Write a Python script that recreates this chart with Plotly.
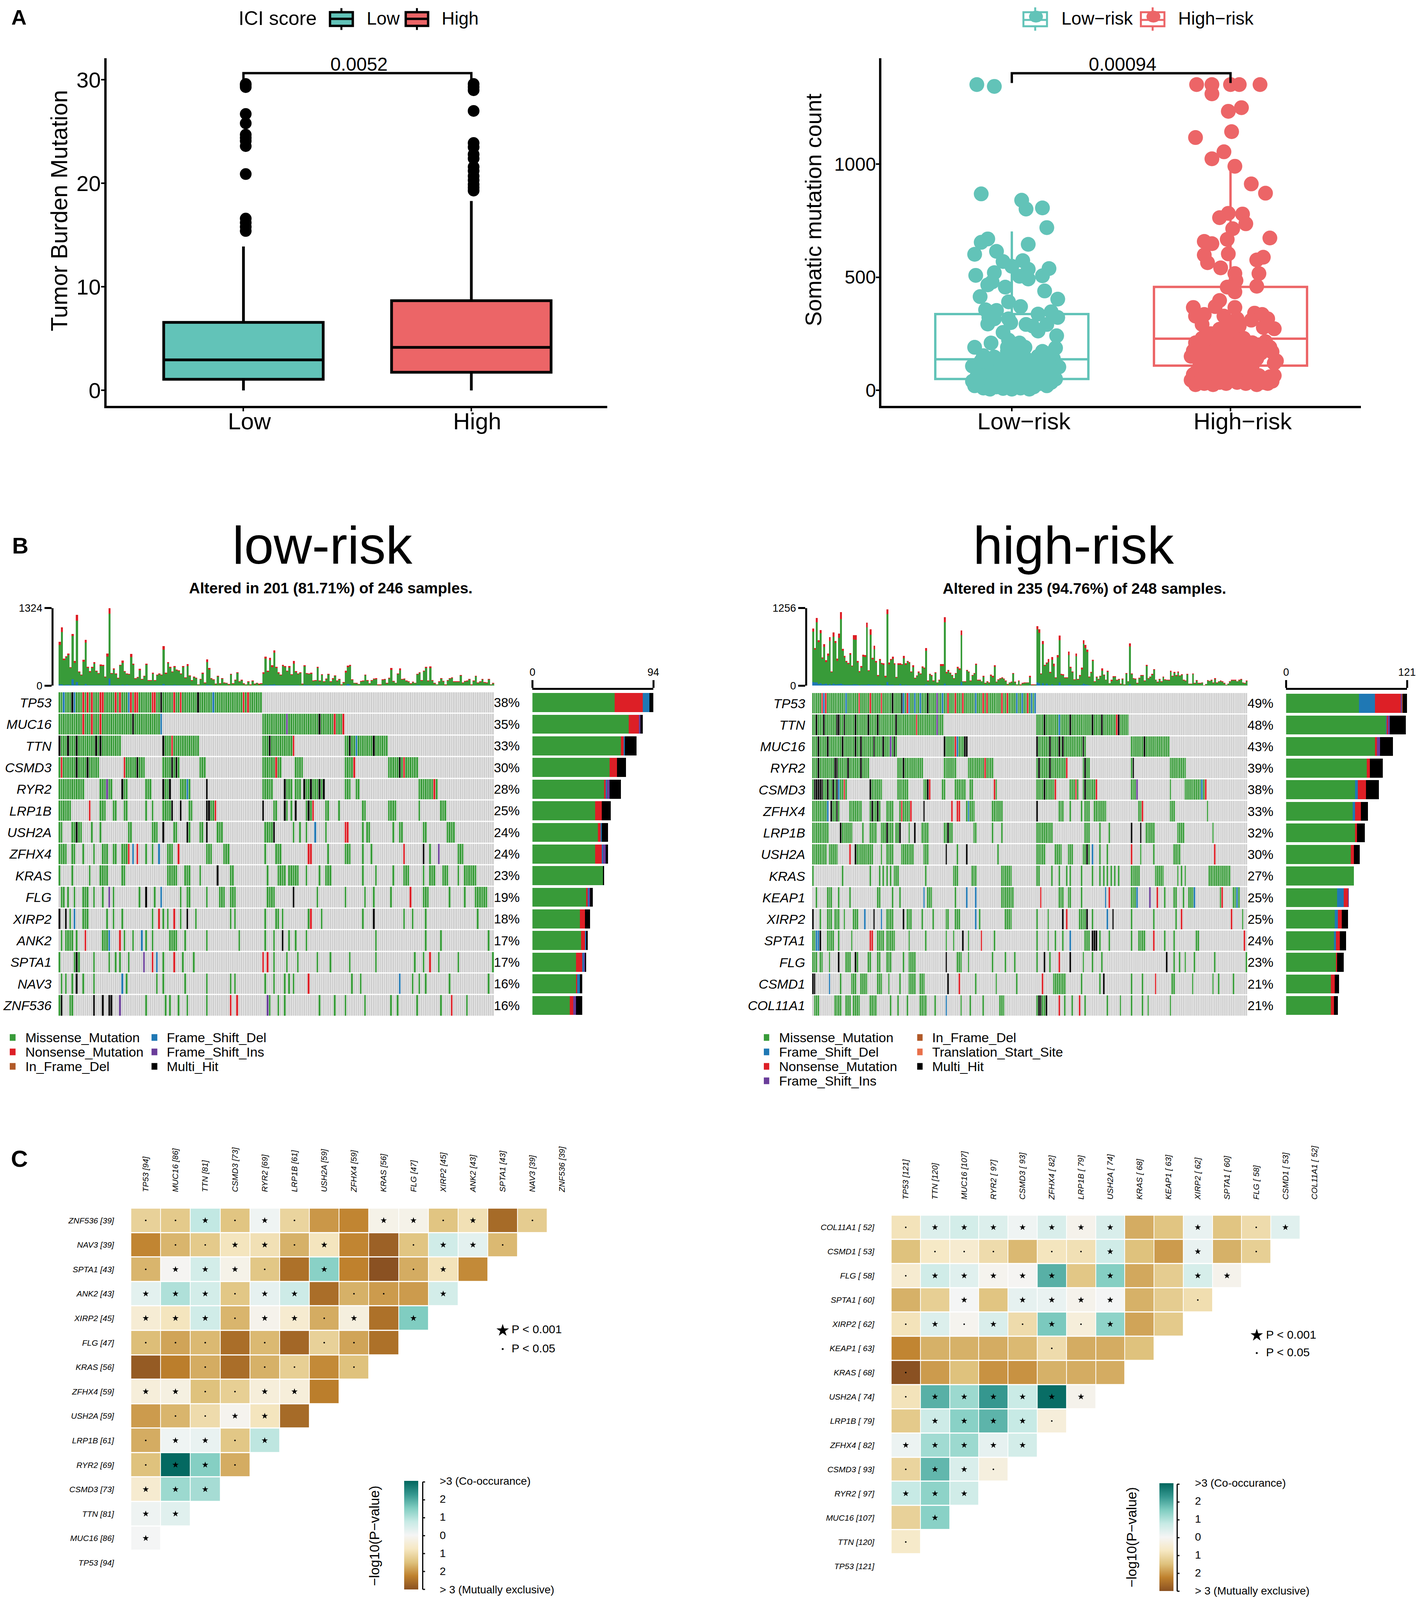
import plotly.graph_objects as go

# page keeps the browser's default 8px body margin, and only about 4100px of the window's height is visible
PAGE_MARGIN = 8
VIEW_H = 4100
Y_SCALE = VIEW_H / 4292
FIG_W = 3644 - 2 * PAGE_MARGIN
FIG_H = VIEW_H - 2 * PAGE_MARGIN
FONT = "Liberation Sans"

TEAL = "#62C3B8"
SALMON = "#EC6567"
GREEN = "#389B39"
RED = "#DD1F26"
BLUE = "#1F78B4"
PURPLE = "#6A3D9A"
BROWN = "#B15928"
ORANGE = "#E9704A"
BLACK = "#000000"
GREY = "#CFCFCF"

# panel A, left
TMB_GROUPS = ["Low", "High"]
TMB_Q1 = [1.07, 1.75]
TMB_MEDIAN = [2.95, 4.16]
TMB_Q3 = [6.57, 8.67]
TMB_LOWER = [0, 0]
TMB_UPPER = [13.9, 18.3]
TMB_LOW_OUTLIERS = [29.6, 29.5, 29.3, 26.7, 25.8, 24.7, 24.4, 24.1, 23.6, 20.9, 16.6, 16.2, 15.8, 15.4]
TMB_HIGH_OUTLIERS = [29.6, 29.3, 29.0, 27.0, 23.9, 23.5, 22.8, 22.4, 21.6, 21.2, 20.7, 20.3, 19.9, 19.6, 19.3]
TMB_BRACKET = [29.65, 30.65, 30.65, 29.65]

# panel A, right
RISK_GROUPS = ["Low\u2212risk", "High\u2212risk"]
RISK_Q1 = [50, 109]
RISK_MEDIAN = [137, 228]
RISK_Q3 = [337, 457]
RISK_LOWER = [5, 21]
RISK_UPPER = [702, 974]
RISK_BRACKET = [1358, 1401, 1401, 1358]
RISK_LOW_X = [-.16, -.08, -.14, .045, .065, .14, .16, .075, -.11, -.14, -.17, -.07, -.04, .05, 0, .17, .075, -.08, -.165, .14,
              .075, .035, -.09, -.11, -.03, .15, -.145, .21, -.015, .04, -.12, -.07, .12, .18, .21, -.105, -.08, -.015, -.005, -.11,
              .065, .16, .095, .12, -.04, .205, -.095, -.015, .035, -.17, .2, -.02, .035, .14, -.13, -.08, .065, .135, .19, -.18,
              .215, 0, .075, -.18, -.17, -.16, -.15, -.14, -.13, -.12, -.11, -.1, -.1, -.09, -.08, -.07, -.06, -.05, -.05, -.04,
              -.03, -.02, -.01, 0, 0, .01, .02, .03, .04, .04, .05, .06, .07, .08, .08, .09, .1, .11, .12, .13,
              .14, .15, .16, .17, .18, .19, .2, -.1, -.06, -.03, .02, .05, .09, .12, .16, .18, -.14, -.02, .06]
RISK_LOW_Y = [1351, 1343, 868, 840, 801, 806, 719, 645, 669, 654, 601, 614, 569, 573, 548, 538, 535, 520, 508, 506,
              492, 504, 479, 466, 456, 439, 414, 403, 391, 370, 356, 353, 337, 347, 322, 322, 316, 316, 299, 293,
              291, 291, 284, 262, 256, 241, 209, 222, 209, 190, 187, 172, 174, 172, 153, 147, 140, 134, 140, 107,
              103, 122, 109, 40, 20, 60, 85, 35, 10, 50, 75, 25, 5, 90, 45, 15, 65, 100, 30, 8,
              55, 80, 20, 45, 5, 95, 60, 25, 10, 75, 40, 100, 55, 5, 30, 85, 15, 50, 70, 30,
              95, 45, 20, 65, 35, 85, 50, 120, 135, 115, 150, 130, 115, 150, 120, 165, 130, 190, 190]
RISK_HIGH_X = [-.155, -.085, 0, .04, .135, -.085, .05, -.01, .005, -.16, -.03, -.085, .02, .095, .16, -.01, -.05, .055, .07, .01,
               .18, -.015, -.12, -.085, -.01, -.12, .15, .12, -.105, -.045, .13, .02, .025, .12, -.015, .02, -.05, -.17, -.07, .02,
               -.16, -.12, .11, .145, -.03, .17, .03, .095, -.13, .15, .2, -.02, .04, -.18, -.17, -.16, -.15, -.14, -.13, -.12,
               -.11, -.1, -.09, -.08, -.07, -.06, -.05, -.04, -.03, -.02, -.01, 0, .01, .02, .03, .04, .05, .06, .07, .08,
               .09, .1, .12, .13, .15, .17, .18, .19, .2, -.18, -.17, -.16, -.14, -.13, -.12, -.1, -.09, -.08, -.07, -.06,
               -.05, -.04, -.03, -.02, -.01, 0, .01, .02, .03, .04, .05, .06, .08, .09, .1, .11, .12, .14, .16, .18,
               .2, .19, .21]
RISK_HIGH_Y = [1351, 1351, 1351, 1351, 1351, 1310, 1249, 1233, 1143, 1117, 1054, 1023, 990, 912, 871, 782, 763, 779, 736, 714,
               673, 667, 658, 648, 603, 598, 588, 576, 564, 541, 516, 516, 485, 460, 456, 435, 397, 366, 370, 366,
               328, 335, 341, 335, 328, 316, 316, 310, 291, 278, 272, 278, 284, 45, 70, 25, 90, 120, 50, 30,
               80, 110, 45, 25, 70, 100, 35, 60, 90, 30, 75, 120, 50, 90, 35, 70, 110, 50, 30, 85,
               60, 110, 25, 65, 35, 30, 60, 40, 65, 150, 175, 210, 190, 230, 160, 200, 250, 170, 230, 140,
               270, 190, 150, 240, 175, 290, 210, 150, 260, 190, 140, 230, 175, 150, 210, 180, 140, 165, 215, 190,
               120, 170, 130]

# panel B, low-risk oncoplot: tokens are sample ranges, letter = mutation type, no letter = missense
LOW_GENES = ["TP53", "MUC16", "TTN", "CSMD3", "RYR2", "LRP1B", "USH2A", "ZFHX4", "KRAS", "FLG", "XIRP2", "ANK2", "SPTA1", "NAV3", "ZNF536"]
LOW_PCT = ["38%", "35%", "33%", "30%", "28%", "25%", "24%", "24%", "23%", "19%", "18%", "17%", "17%", "16%", "16%"]
LOW_TP53 = "0-93 F2 H6 F7 N11 N13 N15 N19 N20 N26 N28 F32 N33 N35 N36 N43 N44 H47 N53 N56 H64 F71 N85 N87"
LOW_MUC16 = "0-47 94-131 N11 N15 N19 H34 F47 I105 H120 N127 N131"
LOW_TTN = "0-28 48-64 94-108 132-151 H0 H4 H8 H17 H19 H48 N52 H97 N108 H134 F137 H145"
LOW_CSMD3 = "0-18 30-39 48-55 65-67 94-102 109-112 132-136 152-165 N1 H8 H13 N30 H36 H52 H54 N100 N136 H157 N159"
LOW_RYR2 = "0-11 19-24 29-31 40-42 48-51 56-60 94-98 104-107 109-111 113-122 132-134 137-138 166-174 I22 H29 H48 H51 F59 H68 H104 H113 H116 H120 H122 N173"
LOW_LRP1B = "0-5 N14 19-21 25-26 30-31 40 43 48-52 H52 H56 60-61 H68 H69 70-72 N72 H94 99-100 104-105 H104 107 H109 114-117 H115 N117 123-124 129 140-141 152-155 166 176-178"
LOW_USH2A = "0-1 6-10 H8 15 19 32-33 43-45 H48 53-54 59-60 H59 65-66 H68 73-75 95-99 H99 108 111 114 F118 123 N132-133 140 142-143 154 157-158 168-169 179-182"
LOW_ZFHX4 = "0-3 6-7 11 16 20-22 25-26 29-31 N32 F34 N36 40 43 F46 50-52 N55 68-70 76-78 95 100-102 N115-116 124 132-134 140 144 N159 H168 171 I175 184-186"
LOW_KRAS = "0 6 14 19-22 29-30 50-54 58-60 65 H73 79-80 96 101-104 106-110 114 120 123-125 140 146 154 159-161 168 171-173 177-179 184 187-192"
LOW_FLG = "1 2 4 7 11-13 16 20 I23 25 37 H40 44 F47 56 59-60 68 74-76 79-81 96-99 H108 119 132 141 145 153 N162 168-170 180 187 192-197"
LOW_XIRP2 = "H0 H3 5 F7 11-13 22 25 29 43 N46 48 50 N53 56 H59 63 79 81 95 100-101 103 N116 115 121 140 H145 159 163 169 193"
LOW_ANK2 = "1 3-6 8 N12 20-22 F23 N28 30 34 F38 40 43 51-54 58 68 83 95 99 H103 106 109 114 146 169 176 198"
LOW_SPTA1 = "0 7-9 H8 16 23 26 28 32 I39 N43 F45 48 N53 57 62 N94 N96 99 105 110 119 125 134 146 164 168 N171 175 184 200"
LOW_NAV3 = "1 3 6 H8 11 16 F29 31 45 48 58 68 79 81 95 99 104 106 108 N115 135 139 F157 163 166 169 180 198"
LOW_ZNF536 = "0 H1 5-6 H16 H20 H23 H24 I28 40 49 51 55 59 68 N79 N82 I96 97 101 104 120 127 132 141 153 156 165 176 N181 188"
LOW_ROWS = [LOW_TP53, LOW_MUC16, LOW_TTN, LOW_CSMD3, LOW_RYR2, LOW_LRP1B, LOW_USH2A, LOW_ZFHX4, LOW_KRAS, LOW_FLG, LOW_XIRP2, LOW_ANK2, LOW_SPTA1, LOW_NAV3, LOW_ZNF536]

LOW_TMB = [750, 998, 462, 504, 552, 315, 882, 420, 1208, 242, 189, 441, 783, 321, 246, 321, 399, 258, 216, 361,
           353, 158, 546, 1323, 216, 294, 210, 137, 357, 430, 248, 210, 200, 542, 374, 126, 147, 290, 116, 168,
           378, 90, 95, 220, 95, 189, 210, 189, 678, 220, 399, 325, 241, 336, 273, 262, 210, 336, 140, 367,
           178, 94, 158, 136, 21, 115, 220, 52, 451, 304, 126, 105, 38, 168, 36, 126, 52, 48, 27, 200,
           36, 100, 231, 69, 98, 38, 21, 73, 17, 84, 36, 48, 32, 36, 227, 494, 258, 477, 346, 603,
           321, 231, 189, 357, 336, 258, 336, 195, 420, 246, 210, 227, 36, 346, 216, 210, 220, 84, 94, 325,
           84, 195, 69, 120, 204, 69, 126, 178, 88, 115, 17, 59, 252, 342, 357, 111, 48, 42, 27, 80,
           84, 189, 90, 36, 90, 122, 126, 17, 17, 105, 115, 42, 136, 300, 80, 48, 210, 294, 115, 122,
           84, 73, 38, 63, 48, 200, 227, 94, 256, 325, 84, 330, 90, 42, 21, 73, 130, 80, 17, 90,
           126, 140, 73, 69, 73, 183, 52, 77, 84, 115, 17, 88, 168, 52, 73, 111, 56, 52, 111, 21, 42]
LOW_NONSENSE = [52, 84, 25, 20, 30, 15, 35, 30, 100, 15, 10, 35, 50, 20, 12, 20, 25, 15, 10, 25,
                20, 15, 52, 95, 10, 22, 15, 10, 15, 40, 15, 10, 10, 50, 22, 8, 12, 25, 8, 10,
                20, 8, 8, 20, 8, 15, 15, 15, 63, 20, 20, 22, 15, 20, 10, 12, 12, 20, 8, 30,
                10, 8, 10, 10, 4, 10, 15, 6, 50, 30, 10, 8, 15, 12, 6, 10, 5, 5, 8, 15,
                6, 8, 15, 6, 6, 8, 6, 6, 4, 6, 15, 6, 15, 8, 25, 30, 20, 42, 30, 42,
                20, 22, 15, 25, 20, 15, 25, 12, 42, 15, 15, 15, 10, 20, 15, 12, 15, 8, 8, 22,
                8, 15, 6, 10, 15, 6, 12, 15, 8, 10, 4, 6, 30, 25, 25, 10, 6, 6, 4, 8,
                8, 12, 6, 6, 6, 10, 12, 3, 3, 8, 10, 6, 15, 30, 6, 6, 15, 30, 10, 12,
                6, 6, 4, 6, 5, 15, 15, 6, 15, 25, 6, 25, 6, 5, 4, 6, 10, 6, 3, 6,
                10, 10, 6, 6, 6, 12, 5, 6, 6, 8, 3, 8, 15, 5, 6, 8, 5, 5, 8, 3, 6]
LOW_FRAMESHIFT = [20, 20, 8, 15, 15, 8, 110, 15, 60, 8, 8, 8, 30, 8, 8, 10, 8, 8, 10, 10,
                  8, 10, 10, 120, 8, 8, 10, 8, 8, 15, 8, 15, 8, 8, 8, 5, 5, 8, 5, 8,
                  8, 5, 5, 8, 5, 5, 5, 8, 30, 8, 10, 8, 8, 15, 8, 8, 5, 8, 5, 5,
                  5, 3, 3, 3, 3, 3, 5, 3, 15, 8, 5, 3, 3, 3, 3, 3, 3, 3, 3, 3,
                  3, 3, 3, 3, 3, 3, 3, 3, 3, 3, 3, 3, 3, 3, 8, 15, 8, 15, 15, 20,
                  8, 10, 5, 8, 5, 5, 5, 5, 5, 8, 5, 3, 3, 15, 8, 8, 5, 3, 5, 15,
                  5, 5, 5, 10, 8, 3, 5, 8, 3, 3, 3, 3, 5, 25, 15, 3, 3, 3, 3, 3,
                  3, 3, 3, 3, 3, 3, 3, 3, 3, 3, 3, 3, 3, 3, 3, 3, 3, 3, 3, 3,
                  3, 3, 3, 3, 3, 8, 5, 3, 3, 3, 3, 3, 3, 3, 3, 3, 3, 3, 3, 3,
                  3, 3, 3, 3, 3, 3, 3, 3, 3, 3, 3, 3, 3, 3, 3, 3, 3, 3, 3, 3, 3]

LOW_BAR_MISSENSE = [64, 75, 69, 60, 56, 49, 51, 49, 55, 42, 37, 38, 34, 34, 29]
LOW_BAR_NONSENSE = [22, 8, 2, 6, 1, 5, 2, 5, 0, 1, 4, 3, 5, 1, 3]
LOW_BAR_FRAMESHIFT_DEL = [5, 0, 1, 0, 1, 0, 1, 1, 0, 1, 0, 1, 1, 2, 0]
LOW_BAR_FRAMESHIFT_INS = [0, 1, 0, 0, 2, 0, 0, 2, 0, 1, 0, 0, 1, 0, 2]
LOW_BAR_MULTI = [3, 2, 9, 7, 9, 7, 5, 2, 1, 2, 4, 1, 1, 2, 5]

# panel B, high-risk oncoplot
HIGH_GENES = ["TP53", "TTN", "MUC16", "RYR2", "CSMD3", "ZFHX4", "LRP1B", "USH2A", "KRAS", "KEAP1", "XIRP2", "SPTA1", "FLG", "CSMD1", "COL11A1"]
HIGH_PCT = ["49%", "48%", "43%", "39%", "38%", "33%", "32%", "30%", "27%", "25%", "25%", "24%", "23%", "21%", "21%"]
HIGH_TP53 = "0-120 N5 F6 N7 F18 N25 N31 N37 H43 H48 F49 F52 N51 F55 F58 H62 I67 F70 N73 N77 N81 F88 N92 N94 N102 N105 F110 F113 N116 F118 F120"
HIGH_TTN = "0-70 121-170 H2 H6 H13 H14 H17 H23 H30 H35 H45 N56 I67 H125 F133 H139 H151 H156 N164 H165"
HIGH_MUC16 = "0-45 71-83 121-147 172-192 H3 H8 H16 H23 H26 H33 H38 I42 H44 H71 N77 F78 H82 H83 H121 H128 H133 H135 H146 H179"
HIGH_RYR2 = "0-30 46-59 71-77 84-97 121-137 146-149 172-173 193-201 H3 H12 H13 H19 H26 H49 N93 H122 H128 N137 H147 H173"
HIGH_CSMD3 = "0-18 H1 H2 H3 H4 H5 H8 H11 H13 F14 N17 31-37 H31 46-51 60-63 H62 N63 70-71 77-82 85-86 98-99 N98 121-131 H125 N131 139-143 N142 146-153 H147 N153 172-175 I175 193 201-212 F210 N212"
HIGH_ZFHX4 = "0-7 F8 10-14 H10 H13 20-26 31-36 H32 H35 40-43 47-52 N48 N53 H60 N75 N78 N79 83-87 F84 97-102 H121 133-135 139 145 147-149 152-158 176-178 N178 193-195 213"
HIGH_LRP1B = "0-8 H15 16-21 27 31-34 37-43 H40 45-47 H47 52 H55 59-62 71-75 H73 87-88 97 102 121-128 129 147-149 155 160 H172 H177 180-184 197-200 216"
HIGH_USH2A = "0-7 9-13 N20 24-32 H23 37 40-43 48-54 60-62 H72 78 H83 100 121-125 131-134 138-140 146-149 H148 F151 155 159 N172 177 184 195-198 N217"
HIGH_KRAS = "0 16 31 36 38 40 42 44-46 61 76-78 86-88 102-107 121-122 129 133 137 139 145 151 155 157 159 161 163 165 172-176 185-189 197 199 201 214-225"
HIGH_KEAP1 = "2 8-10 14 20 35-36 43 47 F60 62-64 77 F83 F88 102-108 N123 133-135 138-139 145 F158 N160 172-174 F175 I182 N186 190 195-196 200 203-205 F206 220 N221 227-230 F229"
HIGH_XIRP2 = "H0 4 8-10 12-14 17 22-24 F28 H33 F37 40-43 H49 51-53 59 65 72-73 77-79 F88 90 104-107 121 127 H135 N137 144-148 H148 151 F159 H162 172 184 196 N199 N226 232"
HIGH_SPTA1 = "0-1 F2-3 H4 8-11 14 21 N31-32 35-38 40-44 52 61 72 76 H81 84 N91 98 121 127 131 135 F139 147-149 H151-153 155 160 172 176-179 N184 190 195 207-208 N233"
HIGH_FLG = "0-2 4-5 9 H14 18-20 H23 24 30-31 35-36 40-42 49 52-55 H72 78-80 84 97 104 109 121 H125 128 N133 H139 146 151 156 H191 195 198 201 206 217 234"
HIGH_CSMD1 = "H0-1 F9 15 21-23 26-29 35-37 41 47 52-55 58-60 H73 N79 88 99 110 N124 130-136 145 155 H157 172 178 N185 194-195 205 216 219 227"
HIGH_COL11A1 = "1-3 12-15 18-20 22-25 31-34 42 46 51 58-61 66 F72 80 85 92 101-103 121-125 H122 H123 H126 N133 136 140 N144 147 159 166 172 178 181 193"
HIGH_ROWS = [HIGH_TP53, HIGH_TTN, HIGH_MUC16, HIGH_RYR2, HIGH_CSMD3, HIGH_ZFHX4, HIGH_LRP1B, HIGH_USH2A, HIGH_KRAS, HIGH_KEAP1, HIGH_XIRP2, HIGH_SPTA1, HIGH_FLG, HIGH_CSMD1, HIGH_COL11A1]

HIGH_TMB = [924, 610, 1096, 734, 904, 460, 676, 414, 520, 784, 230, 864, 724, 440, 846, 1190, 594, 486, 400, 370,
            530, 324, 820, 820, 400, 234, 320, 500, 496, 1020, 250, 916, 454, 646, 400, 170, 430, 370, 360, 160,
            1240, 374, 430, 470, 360, 140, 360, 360, 350, 480, 360, 400, 380, 230, 330, 130, 166, 230, 200, 310,
            290, 610, 80, 194, 170, 80, 216, 50, 96, 350, 350, 1110, 220, 254, 210, 170, 120, 206, 306, 280,
            896, 70, 66, 256, 230, 80, 174, 206, 354, 90, 94, 70, 160, 40, 66, 46, 176, 160, 330, 60,
            104, 124, 134, 110, 80, 26, 50, 60, 206, 60, 20, 80, 16, 40, 46, 50, 50, 160, 16, 16,
            18, 966, 916, 200, 724, 340, 374, 430, 220, 464, 354, 134, 496, 814, 190, 184, 134, 134, 554, 306,
            230, 100, 524, 110, 170, 290, 736, 660, 584, 146, 220, 420, 70, 150, 110, 160, 280, 180, 96, 240,
            36, 94, 154, 156, 90, 110, 30, 110, 20, 206, 70, 686, 200, 124, 110, 40, 124, 170, 170, 80,
            336, 120, 150, 190, 270, 96, 60, 106, 66, 150, 100, 96, 90, 240, 160, 220, 170, 230, 166, 186,
            90, 80, 190, 30, 30, 200, 40, 86, 40, 40, 50, 6, 26, 86, 76, 90, 46, 120, 46, 70,
            80, 66, 40, 10, 30, 70, 90, 90, 90, 70, 94, 110, 50, 40, 84]
HIGH_NONSENSE = [50, 25, 70, 30, 55, 20, 50, 30, 40, 60, 15, 70, 35, 40, 70, 110, 30, 30, 20, 20,
                 25, 15, 70, 76, 25, 15, 25, 30, 30, 76, 15, 88, 30, 55, 25, 12, 25, 20, 20, 25,
                 76, 30, 20, 40, 15, 8, 25, 20, 15, 35, 25, 15, 15, 12, 30, 15, 12, 20, 12, 20,
                 15, 45, 6, 15, 12, 6, 10, 4, 8, 35, 30, 84, 25, 20, 15, 10, 8, 15, 25, 25,
                 76, 5, 5, 15, 12, 6, 12, 15, 20, 6, 8, 5, 20, 4, 6, 4, 12, 25, 25, 5,
                 8, 15, 10, 6, 6, 6, 4, 4, 15, 4, 3, 6, 3, 3, 3, 3, 3, 25, 3, 3,
                 3, 50, 60, 15, 50, 25, 20, 50, 15, 45, 40, 10, 40, 76, 12, 20, 10, 15, 60, 20,
                 15, 8, 50, 8, 12, 30, 55, 50, 35, 10, 12, 20, 10, 10, 8, 10, 40, 12, 6, 12,
                 3, 20, 20, 10, 6, 8, 4, 6, 3, 12, 5, 50, 10, 10, 6, 4, 8, 10, 10, 6,
                 20, 10, 10, 15, 15, 6, 5, 8, 5, 10, 6, 5, 6, 15, 15, 15, 12, 20, 12, 15,
                 6, 6, 10, 3, 3, 10, 3, 6, 3, 3, 3, 1, 3, 6, 5, 6, 4, 12, 3, 5,
                 6, 5, 3, 2, 3, 6, 6, 6, 6, 5, 8, 8, 4, 4, 8]
HIGH_FRAMESHIFT = [60, 55, 50, 25, 40, 20, 25, 30, 15, 25, 15, 30, 20, 20, 25, 30, 20, 15, 12, 15,
                   15, 12, 20, 18, 15, 10, 15, 15, 15, 15, 18, 15, 15, 15, 12, 10, 15, 10, 10, 8,
                   60, 12, 15, 12, 10, 8, 10, 25, 10, 10, 15, 10, 8, 8, 8, 6, 8, 8, 8, 10,
                   6, 20, 5, 5, 5, 5, 8, 4, 5, 5, 10, 35, 8, 8, 5, 5, 5, 5, 8, 10,
                   60, 5, 5, 10, 8, 5, 8, 8, 5, 5, 5, 5, 8, 4, 5, 4, 5, 5, 8, 5,
                   5, 8, 8, 5, 4, 4, 4, 4, 8, 4, 3, 4, 3, 3, 3, 3, 3, 8, 3, 3,
                   3, 50, 40, 10, 40, 10, 30, 10, 8, 20, 8, 5, 8, 50, 8, 8, 5, 5, 12, 15,
                   8, 5, 8, 5, 5, 15, 30, 20, 15, 5, 5, 3, 3, 3, 3, 3, 3, 3, 3, 3,
                   3, 3, 3, 3, 3, 3, 3, 3, 3, 3, 3, 20, 3, 3, 3, 3, 3, 3, 3, 3,
                   3, 3, 3, 3, 3, 3, 3, 3, 3, 3, 3, 3, 3, 3, 3, 3, 3, 3, 3, 3,
                   3, 3, 3, 3, 3, 3, 3, 3, 3, 3, 3, 2, 3, 3, 3, 3, 3, 3, 3, 3,
                   3, 3, 3, 3, 3, 3, 3, 3, 3, 3, 3, 3, 3, 3, 3]

HIGH_BAR_MISSENSE = [73, 100, 89, 81, 69, 67, 69, 65, 68, 51, 49, 48, 50, 45, 45]
HIGH_BAR_FRAMESHIFT_DEL = [16, 1, 0, 0, 3, 2, 0, 0, 0, 7, 3, 2, 0, 0, 0]
HIGH_BAR_NONSENSE = [26, 1, 2, 3, 8, 6, 2, 3, 0, 4, 4, 4, 1, 4, 3]
HIGH_BAR_FRAMESHIFT_INS = [1, 2, 3, 0, 0, 0, 0, 0, 0, 1, 0, 0, 0, 0, 0]
HIGH_BAR_INFRAME = [1, 0, 0, 0, 0, 0, 0, 0, 0, 0, 0, 0, 0, 0, 0]
HIGH_BAR_MULTI = [4, 16, 13, 13, 13, 7, 8, 6, 0, 0, 6, 6, 7, 4, 4]

# panel C, low-risk. rows top to bottom, S = star (p<0.001), D = dot (p<0.05), - = nothing
LOW_HEAT_ROWS = ["ZNF536 [39]", "NAV3 [39]", "SPTA1 [43]", "ANK2 [43]", "XIRP2 [45]", "FLG [47]", "KRAS [56]", "ZFHX4 [59]",
                 "USH2A [59]", "LRP1B [61]", "RYR2 [69]", "CSMD3 [73]", "TTN [81]", "MUC16 [86]", "TP53 [94]"]
LOW_HEAT_COLS = ["TP53 [94]", "MUC16 [86]", "TTN [81]", "CSMD3 [73]", "RYR2 [69]", "LRP1B [61]", "USH2A [59]", "ZFHX4 [59]",
                 "KRAS [56]", "FLG [47]", "XIRP2 [45]", "ANK2 [43]", "SPTA1 [43]", "NAV3 [39]", "ZNF536 [39]"]
LOW_HEAT_VALUES = [
    [-1.2, -1.35, .8, -1.45, .1, -1.15, -2.0, -2.2, -.2, -.2, -1.45, -.9, -2.6, -1.3],
    [-2.2, -1.65, -1.35, -.8, -.9, -1.7, -.8, -2.2, -2.75, -1.45, .6, .3, -1.6],
    [-1.65, -.05, .55, -.2, -1.4, -2.5, 1.4, -2.25, -3, -1.75, -.85, -2.15],
    [.3, 1.0, .55, -1.4, .25, .65, -2.55, -1.7, -1.95, -1.95, .55],
    [-.5, -.8, .6, -1.65, -.15, -.55, -1.75, -.35, -2.5, 1.5],
    [-1.55, -1.85, -1.6, -2.55, -1.6, -2.65, -1.2, -1.85, -2.5],
    [-2.85, -2.3, -1.75, -2.55, -1.7, -1.25, -2.15, -1.5],
    [-.4, -.3, -1.5, -1.25, -.4, -.4, -2.3],
    [-1.95, -1.65, -1.0, -.1, -.8, -2.6],
    [-1.75, .1, .2, -1.4, .85],
    [-1.5, 2.95, 1.45, -1.75],
    [-.55, 1.2, 1.1],
    [.12, .35],
    [.02],
    [],
]
LOW_HEAT_MARKS = ["DDSDSD--SSDS-D", "-DDSSDS--DSSD", "DSSSD-S--DS-", "SSSDSS-DD-S", "SSSDSSDS-S", "DDD-D-DD-",
                  "--D-DD-D", "SSDDSS-", "-DDSS-", "DSSDS", "DSSD", "SSS", "SS", "S", ""]

# panel C, high-risk
HIGH_HEAT_ROWS = ["COL11A1 [ 52]", "CSMD1 [ 53]", "FLG [ 58]", "SPTA1 [ 60]", "XIRP2 [ 62]", "KEAP1 [ 63]", "KRAS [ 68]", "USH2A [ 74]",
                  "LRP1B [ 79]", "ZFHX4 [ 82]", "CSMD3 [ 93]", "RYR2 [ 97]", "MUC16 [107]", "TTN [120]", "TP53 [121]"]
HIGH_HEAT_COLS = ["TP53 [121]", "TTN [120]", "MUC16 [107]", "RYR2 [ 97]", "CSMD3 [ 93]", "ZFHX4 [ 82]", "LRP1B [ 79]", "USH2A [ 74]",
                  "KRAS [ 68]", "KEAP1 [ 63]", "XIRP2 [ 62]", "SPTA1 [ 60]", "FLG [ 58]", "CSMD1 [ 53]", "COL11A1 [ 52]"]
HIGH_HEAT_VALUES = [
    [-.85, .4, .55, .4, .1, .45, -.15, .45, -1.75, -1.45, .2, -1.45, -1.0, .35],
    [-1.5, -.7, -.55, -1.0, -1.6, -.8, -.9, .6, -1.5, -1.95, .2, -1.7, -1.25],
    [-.55, .6, .35, -.1, -.05, 1.9, -1.4, 1.45, -1.8, -1.3, .5, -.15],
    [-1.7, -1.25, .02, -1.45, .25, .2, -.15, .02, -1.7, -1.3, -.95],
    [-.85, .4, -.1, .45, -1.0, 1.55, -.4, 1.35, -1.85, -1.35],
    [-2.2, -1.7, -1.7, -1.75, -1.6, -1.0, -1.75, -1.75, -1.5],
    [-3, -1.95, -1.5, -2.05, -2.05, -1.7, -1.75, -1.75],
    [-.85, 1.9, 1.2, 2.25, .7, 2.9, -.15],
    [-1.35, .65, 1.4, 1.85, .75, -.4],
    [.15, 1.15, 1.2, .25, .55],
    [-1.15, 1.8, .45, -.35],
    [.75, 1.35, .6],
    [-1.2, 1.4],
    [-.65],
    [],
]
HIGH_HEAT_MARKS = ["DSSSSSSS--S-DS", "-DDD-DDS--S-D", "DSSSSS-S--SS", "--S-SSSS--D", "DSDSDSDS--", "-----D---", "D-------", "DSSSSSS", "-SSSSD",
                   "SSSSS", "DSSD", "SSS", "-S", "D", ""]

HEAT_TICKVALS = [-3, -2, -1, 0, 1, 2, 3]
HEAT_TICKTEXT = ["> 3 (Mutually exclusive)", "2", "1", "0", "1", "2", ">3 (Co-occurance)"]
BRBG = [[0, "#8A5122"], [.125, "#BF812D"], [.25, "#DFC27D"], [.375, "#F6E8C3"], [.5, "#F5F5F5"],
        [.625, "#C7EAE5"], [.75, "#80CDC1"], [.875, "#35978F"], [1, "#01665E"]]

LEGEND_LOW = [("Missense_Mutation", GREEN), ("Nonsense_Mutation", RED), ("In_Frame_Del", BROWN),
              ("Frame_Shift_Del", BLUE), ("Frame_Shift_Ins", PURPLE), ("Multi_Hit", BLACK)]
LEGEND_HIGH = [("Missense_Mutation", GREEN), ("Frame_Shift_Del", BLUE), ("Nonsense_Mutation", RED), ("Frame_Shift_Ins", PURPLE),
               ("In_Frame_Del", BROWN), ("Translation_Start_Site", ORANGE), ("Multi_Hit", BLACK)]

CODES = {"M": 1, "F": 2, "N": 3, "I": 4, "B": 5, "T": 6, "H": 7}
MATRIX_COLORS = [GREY, GREEN, BLUE, RED, PURPLE, BROWN, ORANGE, BLACK]


def xp(px):
    return (px - PAGE_MARGIN) / FIG_W


def yp(py):
    return 1 - (py * Y_SCALE - PAGE_MARGIN) / FIG_H


def xdom(px0, px1):
    return [xp(px0), xp(px1)]


def ydom(py_top, py_bottom):
    return [yp(py_bottom), yp(py_top)]


def parse_row(spec, n_samples):
    row = [0] * n_samples
    for token in spec.split():
        code = CODES["M"]
        if token[0].isalpha():
            code = CODES[token[0]]
            token = token[1:]
        start, _, end = token.partition("-")
        for i in range(int(start), int(end or start) + 1):
            if i < n_samples:
                row[i] = code
    return row


def matrix_colorscale():
    n = len(MATRIX_COLORS)
    scale = []
    for i, color in enumerate(MATRIX_COLORS):
        scale += [[i / n, color], [(i + 1) / n, color]]
    return scale


fig = go.Figure()
annotations = []
shapes = []


def label(px, py, text, size, anchor="left", angle=0, **kw):
    annotations.append(dict(x=xp(px), y=yp(py), xref="paper", yref="paper", text=text, showarrow=False,
                            xanchor=anchor, yanchor="middle", textangle=angle, font=dict(size=size, color="black"), **kw))


def rect(x0, y0, x1, y1, fill, line_color=None, line_width=0, kind="rect"):
    shapes.append(dict(type=kind, xref="paper", yref="paper", x0=xp(x0), x1=xp(x1), y0=yp(y0), y1=yp(y1), fillcolor=fill,
                       line=dict(color=line_color or fill, width=line_width)))


def hline(x0, y0, x1, y1, color="black", width=5):
    shapes.append(dict(type="line", xref="paper", yref="paper", x0=xp(x0), x1=xp(x1), y0=yp(y0), y1=yp(y1),
                       line=dict(color=color, width=width)))


def add_boxes(xaxis, yaxis, names, q1, median, q3, lower, upper, colors, fills, line_width):
    for i in range(2):
        fig.add_trace(go.Box(x=[i], q1=[q1[i]], median=[median[i]], q3=[q3[i]], lowerfence=[lower[i]], upperfence=[upper[i]],
                             width=0.7, whiskerwidth=0, fillcolor=fills[i], line=dict(color=colors[i], width=line_width),
                             name=names[i], xaxis=xaxis, yaxis=yaxis, boxpoints=False))


def box_axes(xkey, ykey, xname, yname, x0, x1, x_range, y_range, tickvals, ticktext, shift, y_tickvals, y_size):
    layout[xkey] = dict(domain=xdom(x0, x1), range=x_range, anchor=yname, tickvals=tickvals, ticktext=ticktext, showgrid=False,
                        zeroline=False, showline=True, linecolor="black", linewidth=6, ticks="outside", ticklen=8, tickwidth=4,
                        tickcolor="black", tickfont=dict(size=60), ticklabelshift=shift, ticklabelstandoff=-26)
    layout[ykey] = dict(domain=ydom(141, 1080), range=y_range, anchor=xname, tickvals=y_tickvals, showgrid=False, zeroline=False,
                        showline=True, linecolor="black", linewidth=6, ticks="outside", ticklen=8, tickwidth=4, tickcolor="black",
                        tickfont=dict(size=y_size), ticklabelstandoff=-10)


def add_oncoplot(prefix, genes, pct, rows, n_samples, tmb, nonsense, frameshift, bars, x0, x1, axis_x, bar_x0, bar_x1, bar_max, y0):
    xt, yt = f"x{prefix}", f"y{prefix}"
    xm, ym = f"x{prefix + 1}", f"y{prefix + 1}"
    xb, yb = f"x{prefix + 2}", f"y{prefix + 2}"
    samples = list(range(n_samples))
    missense = [max(t - n - f, 0) for t, n, f in zip(tmb, nonsense, frameshift)]
    for values, color in ((frameshift, BLUE), (missense, GREEN), (nonsense, RED)):
        fig.add_trace(go.Bar(x=samples, y=values, marker=dict(color=color, line=dict(width=0)), width=1.0, xaxis=xt, yaxis=yt))
    layout[f"xaxis{prefix}"] = dict(domain=xdom(x0, x1), range=[-0.5, n_samples - 0.5], anchor=yt, visible=False)
    layout[f"yaxis{prefix}"] = dict(domain=ydom(1626, 1835), range=[0, tmb_axis_max[prefix]], anchor="free", position=xp(axis_x),
                                    tickvals=[0, tmb_axis_max[prefix]], showgrid=False, zeroline=False, showline=True,
                                    linecolor="black", linewidth=5, ticks="outside", ticklen=18, tickwidth=5, tickcolor="black",
                                    tickfont=dict(size=27))

    z = [parse_row(spec, n_samples) for spec in rows]
    fig.add_trace(go.Heatmap(z=z, x=samples, y=list(range(len(genes))), zmin=-0.5, zmax=len(MATRIX_COLORS) - 0.5, colorscale=matrix_colorscale(),
                             showscale=False, xgap=1, ygap=3, xaxis=xm, yaxis=ym, hoverinfo="skip"))
    layout[f"xaxis{prefix + 1}"] = dict(domain=xdom(x0, x1), range=[-0.5, n_samples - 0.5], anchor=ym, visible=False)
    layout[f"yaxis{prefix + 1}"] = dict(domain=ydom(y0, 2728), range=[len(genes) - 0.5, -0.5], anchor=xm, tickvals=list(range(len(genes))),
                                        ticktext=[f"<i>{g}</i>" for g in genes], showgrid=False, zeroline=False, ticks="outside", ticklen=10,
                                        tickcolor="rgba(0,0,0,0)", tickfont=dict(size=34))

    for values, color in bars:
        fig.add_trace(go.Bar(y=list(range(len(genes))), x=values, orientation="h", width=0.88, marker=dict(color=color, line=dict(width=0)),
                             xaxis=xb, yaxis=yb))
    layout[f"xaxis{prefix + 2}"] = dict(domain=xdom(bar_x0, bar_x1), range=[0, bar_max], anchor="free", position=yp(1843), side="top",
                                        tickvals=[0, bar_max], showgrid=False, zeroline=False, showline=True, linecolor="black", linewidth=5,
                                        ticks="outside", ticklen=20, tickwidth=5, tickcolor="black", tickfont=dict(size=27))
    layout[f"yaxis{prefix + 2}"] = dict(domain=ydom(y0, 2728), range=[len(genes) - 0.5, -0.5], anchor=xb, tickvals=list(range(len(genes))),
                                        ticktext=pct, showgrid=False, zeroline=False, ticks="outside", ticklen=25,
                                        tickcolor="rgba(0,0,0,0)", tickfont=dict(size=33))


def add_heat(prefix, row_names, col_names, values, marks, x0, x1, y0, y1, cb_x, cb_y0, cb_y1, col_gap, row_gap):
    xname, yname = f"x{prefix}", f"y{prefix}"
    n = len(col_names)
    rows = list(range(n))
    z = [row + [None] * (n - len(row)) for row in values]
    fig.add_trace(go.Heatmap(z=z, x=rows, y=rows, zmin=-3, zmax=3, colorscale=BRBG, xgap=2, ygap=3, hoverongaps=False,
                             xaxis=xname, yaxis=yname,
                             colorbar=dict(x=xp(cb_x), xanchor="left", y=yp((cb_y0 + cb_y1) / 2), yanchor="middle", lenmode="pixels", len=(cb_y1 - cb_y0) * Y_SCALE,
                                           thicknessmode="pixels", thickness=36, xpad=0, ypad=0, outlinewidth=0, tickvals=HEAT_TICKVALS,
                                           ticktext=HEAT_TICKTEXT, ticks="outside", ticklen=50, tickcolor="rgba(0,0,0,0)", tickfont=dict(size=28))))
    for symbol, size, code in (("star", 12, "S"), ("circle", 4, "D")):
        xs, ys = [], []
        for r, mark_row in enumerate(marks):
            for c, mark in enumerate(mark_row):
                if mark == code:
                    xs.append(c)
                    ys.append(r)
        fig.add_trace(go.Scatter(x=xs, y=ys, mode="markers", marker=dict(symbol=symbol, size=size, color="black"), xaxis=xname, yaxis=yname))
    layout[f"xaxis{prefix}"] = dict(domain=xdom(x0, x1), range=[-0.5, n - 0.5], anchor=yname, side="top", tickvals=rows,
                                    ticktext=[f"<i>{c}</i>" for c in col_names], tickangle=-90, showgrid=False, zeroline=False, ticks="outside",
                                    ticklen=col_gap, tickcolor="rgba(0,0,0,0)", tickfont=dict(size=21))
    layout[f"yaxis{prefix}"] = dict(domain=ydom(y0, y1), range=[n - 0.5, -0.5], anchor=xname, tickvals=rows,
                                    ticktext=[f"<i>{r}</i>" for r in row_names], showgrid=False, zeroline=False, ticks="outside",
                                    ticklen=row_gap, tickcolor="rgba(0,0,0,0)", tickfont=dict(size=21))


layout = {}
tmb_axis_max = {3: 1324, 6: 1256}

# panel A left
add_boxes("x", "y", TMB_GROUPS, TMB_Q1, TMB_MEDIAN, TMB_Q3, TMB_LOWER, TMB_UPPER, ["black", "black"], [TEAL, SALMON], 7)
fig.add_trace(go.Scatter(x=[0.01] * len(TMB_LOW_OUTLIERS), y=TMB_LOW_OUTLIERS, mode="markers", marker=dict(size=30, color="black"), xaxis="x", yaxis="y"))
fig.add_trace(go.Scatter(x=[1.01] * len(TMB_HIGH_OUTLIERS), y=TMB_HIGH_OUTLIERS, mode="markers", marker=dict(size=30, color="black"), xaxis="x", yaxis="y"))
fig.add_trace(go.Scatter(x=[0, 0, 1, 1], y=TMB_BRACKET, mode="lines", line=dict(color="black", width=6), xaxis="x", yaxis="y"))
box_axes("xaxis", "yaxis", "x", "y", 260, 1556, [-0.6, 1.597], [-1.5, 32.1], [0, 1], TMB_GROUPS, 15, [0, 10, 20, 30], 56)

# panel A right
add_boxes("x2", "y2", RISK_GROUPS, RISK_Q1, RISK_MEDIAN, RISK_Q3, RISK_LOWER, RISK_UPPER, [TEAL, SALMON], ["rgba(0,0,0,0)", "rgba(0,0,0,0)"], 6)
fig.add_trace(go.Scatter(x=RISK_LOW_X, y=RISK_LOW_Y, mode="markers", marker=dict(size=38, color=TEAL), xaxis="x2", yaxis="y2"))
fig.add_trace(go.Scatter(x=[1 + v for v in RISK_HIGH_X], y=RISK_HIGH_Y, mode="markers", marker=dict(size=38, color=SALMON), xaxis="x2", yaxis="y2"))
fig.add_trace(go.Scatter(x=[0, 0, 1, 1], y=RISK_BRACKET, mode="lines", line=dict(color="black", width=6), xaxis="x2", yaxis="y2"))
box_axes("xaxis2", "yaxis2", "x2", "y2", 2265, 3507, [-0.597, 1.597], [-69, 1468], [0, 1], RISK_GROUPS, 31, [0, 500, 1000], 48)

# panel B
add_oncoplot(3, LOW_GENES, LOW_PCT, LOW_ROWS, 201, LOW_TMB, LOW_NONSENSE, LOW_FRAMESHIFT,
             [(LOW_BAR_MISSENSE, GREEN), (LOW_BAR_NONSENSE, RED), (LOW_BAR_FRAMESHIFT_DEL, BLUE), (LOW_BAR_FRAMESHIFT_INS, PURPLE), (LOW_BAR_MULTI, BLACK)],
             135, 1263, 119, 1362, 1675, 94, 1852)
add_oncoplot(6, HIGH_GENES, HIGH_PCT, HIGH_ROWS, 235, HIGH_TMB, HIGH_NONSENSE, HIGH_FRAMESHIFT,
             [(HIGH_BAR_MISSENSE, GREEN), (HIGH_BAR_FRAMESHIFT_DEL, BLUE), (HIGH_BAR_NONSENSE, RED), (HIGH_BAR_FRAMESHIFT_INS, PURPLE), (HIGH_BAR_INFRAME, BROWN), (HIGH_BAR_MULTI, BLACK)],
             2086, 3213, 2070, 3313, 3626, 121, 1854)

# panel C
add_heat(9, LOW_HEAT_ROWS, LOW_HEAT_COLS, LOW_HEAT_VALUES, LOW_HEAT_MARKS, 322.5, 1477.5, 3246, 4236, 1030, 3983, 4274, 36, 38)
add_heat(10, HIGH_HEAT_ROWS, HIGH_HEAT_COLS, HIGH_HEAT_VALUES, HIGH_HEAT_MARKS, 2290.6, 3424.6, 3265, 4245, 2985, 3989, 4278, 35, 38)

# panel letters
label(11, 31, "<b>A</b>", 54)
label(13, 1457, "<b>B</b>", 58)
label(10, 3113, "<b>C</b>", 60)

# panel A texts and legend keys
label(138, 553, "Tumor Burden Mutation", 59, anchor="center", angle=-90)
label(2089, 551, "Somatic mutation count", 57, anchor="center", angle=-90)
label(913, 158, "0.0052", 48, anchor="center")
label(2890, 158, "0.00094", 48, anchor="center")
label(599, 34, "ICI score", 50)
label(931, 34, "Low", 46)
label(1125, 34, "High", 46)
label(2729, 34, "Low\u2212risk", 46)
label(3032, 34, "High\u2212risk", 46)
for x0, x1, fill, line in ((838, 897, TEAL, "black"), (1034, 1092, SALMON, "black")):
    hline((x0 + x1) / 2, 6, (x0 + x1) / 2, 65, line, 5)
    rect(x0, 17, x1, 54, fill, line, 6)
    hline(x0, 35, x1, 35, line, 6)
for x0, x1, line in ((2633, 2694, TEAL), (2937, 2998, SALMON)):
    hline((x0 + x1) / 2, 4, (x0 + x1) / 2, 67, line, 5)
    rect(x0, 17, x1, 55, "white", line, 5)
    hline(x0, 38, x1, 38, line, 5)
    rect((x0 + x1) / 2 - 16, 13, (x0 + x1) / 2 + 20, 45, line, line, 0, kind="circle")

# panel B texts
label(819, 1456, "low-risk", 136, anchor="center")
label(2763, 1456, "high-risk", 136, anchor="center")
label(840, 1572, "<b>Altered in 201 (81.71%) of 246 samples.</b>", 39, anchor="center")
label(2791, 1573, "<b>Altered in 235 (94.76%) of 248 samples.</b>", 39, anchor="center")
for i, (text, color) in enumerate(LEGEND_LOW):
    col_x, col_text = (9, 47) if i < 3 else (376, 413)
    y = 2785 + 39 * (i % 3)
    rect(col_x, y - 9, col_x + 15, y + 9, color)
    label(col_text, y, text, 34)
for i, (text, color) in enumerate(LEGEND_HIGH):
    col_x, col_text = (1961, 1998) if i < 4 else (2358, 2395)
    y = 2785 + 39 * (i if i < 4 else i - 4)
    rect(col_x, y - 9, col_x + 14, y + 9, color)
    label(col_text, y, text, 34)

# panel C texts
label(952, 4130, "\u2212log10(P\u2212value)", 35, anchor="center", angle=-90)
label(2912, 4134, "\u2212log10(P\u2212value)", 35, anchor="center", angle=-90)
label(1306, 3572, "P < 0.001", 30)
label(1306, 3624, "P < 0.05", 30)
label(3259, 3587, "P < 0.001", 30)
label(3259, 3635, "P < 0.05", 30)
fig.add_trace(go.Scatter(x=[xp(1285), xp(3237)], y=[yp(3576), yp(3589)], mode="markers", marker=dict(symbol="star", size=24, color="black"), xaxis="x11", yaxis="y11"))
fig.add_trace(go.Scatter(x=[xp(1285), xp(3237)], y=[yp(3626), yp(3637)], mode="markers", marker=dict(size=5, color="black"), xaxis="x11", yaxis="y11"))
layout["xaxis11"] = dict(domain=[0, 1], range=[0, 1], anchor="y11", visible=False)
layout["yaxis11"] = dict(domain=[0, 1], range=[0, 1], anchor="x11", visible=False)
for x_axis, y0, y1 in ((1078, 3985, 4275), (3031, 3991, 4280)):
    hline(x_axis, y0, x_axis, y1, "black", 3)
    for i in range(7):
        y = y0 + i * (y1 - y0) / 6
        hline(x_axis, y, x_axis + 6, y, "black", 3)

fig.update_layout(
    width=FIG_W,
    height=FIG_H,
    margin=dict(l=0, r=0, t=0, b=0),
    paper_bgcolor="white",
    plot_bgcolor="rgba(0,0,0,0)",
    showlegend=False,
    barmode="stack",
    bargap=0,
    font=dict(family=FONT, color="black"),
    annotations=annotations,
    shapes=shapes,
    **layout,
)

fig.write_html("out.html")
